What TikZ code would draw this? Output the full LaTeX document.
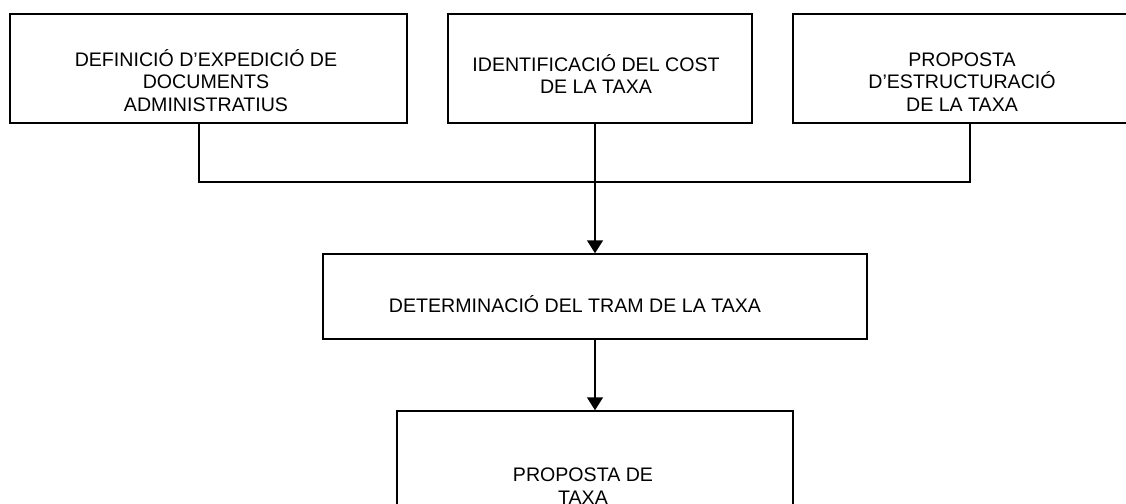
\documentclass[tikz,border=0pt]{standalone}
\usepackage{fontspec}
\setmainfont{Liberation Sans}
\usetikzlibrary{arrows.meta}

\begin{document}
\begin{tikzpicture}[x=1pt, y=-1pt,
    caixa/.style={draw, line width=1.5pt, inner sep=0pt},
    rotul/.style={align=center, font=\fontsize{19.6}{22.5}\selectfont, inner sep=0pt},
    linia/.style={line width=1.5pt},
    fletxa/.style={line width=1.5pt, -{Triangle[length=13pt, width=16pt]}}]
    \useasboundingbox (0,0) rectangle (1126,503);
    \clip (0,0) rectangle (1126,503);

    % Caixes superiors
    \node[caixa, minimum width=397pt, minimum height=109pt] (defin) at (208.5,68.5) {};
    \node[caixa, minimum width=304pt, minimum height=109pt] (ident) at (600,68.5) {};
    \node[caixa, minimum width=354pt, minimum height=109pt] (estruc) at (970,68.5) {};
    \node[rotul] (tdefin) at (206,80.5) {DEFINICIÓ D’EXPEDICIÓ DE\\DOCUMENTS\\ADMINISTRATIUS};
    \node[rotul] (tident) at (596,74) {IDENTIFICACIÓ DEL COST\\DE LA TAXA};
    \node[rotul] (testruc) at (962,82) {PROPOSTA\\D’ESTRUCTURACIÓ\\DE LA TAXA};

    % Tram i proposta
    \node[caixa, minimum width=544pt, minimum height=85pt] (tram) at (595,296.5) {};
    \node[rotul] (ttram) at (575,304) {DETERMINACIÓ DEL TRAM DE LA TAXA};
    \node[caixa, minimum width=396pt, minimum height=146pt] (propos) at (595,484) {};
    \node[rotul] (tpropos) at (583,486) {PROPOSTA DE\\TAXA};

    % Connectors
    \coordinate (unio) at (595,182);
    \draw[linia] ([xshift=-9.5pt]defin.south) |- (unio);
    \draw[linia] (estruc.south) |- (unio);
    \draw[fletxa] (ident.south -| tram.north) -- (tram.north);
    \draw[fletxa] (tram.south) -- (propos.north);
\end{tikzpicture}
\end{document}
